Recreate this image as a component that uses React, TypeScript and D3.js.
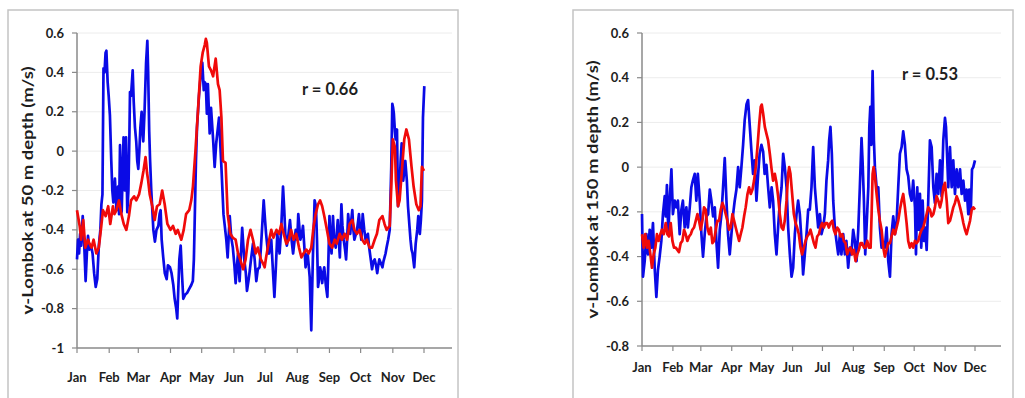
import React from "react";
import * as d3 from "d3";

// Month labels and the day-of-year each month starts on
const months = ["Jan", "Feb", "Mar", "Apr", "May", "Jun", "Jul", "Aug", "Sep", "Oct", "Nov", "Dec"];
const monthStartDays = [0, 31, 59, 90, 120, 151, 181, 212, 243, 273, 304, 334];

// Y ticks for each panel
const ticks50 = [-1, -0.8, -0.6, -0.4, -0.2, 0, 0.2, 0.4, 0.6];
const ticks150 = [-0.8, -0.6, -0.4, -0.2, 0, 0.2, 0.4, 0.6];

// v-Lombok at 50 m depth: [day of year, m/s]
const blue50: [number, number][] = [
  [0, -0.55], [1, -0.45], [2, -0.52], [3, -0.42], [4, -0.48], [5.5, -0.33], [7, -0.48], [8.3, -0.66], [9.5, -0.52],
  [10.6, -0.43], [12, -0.5], [13.5, -0.48], [15, -0.52], [16.5, -0.62], [18, -0.69], [19.5, -0.65], [21, -0.48],
  [22.5, -0.4], [23.5, -0.27], [24.5, -0.22], [25.5, 0.42], [26.5, 0.4], [27.5, 0.5], [28.3, 0.51], [29.5, 0.35],
  [30.5, 0.28], [31.7, 0.18], [33, -0.05], [34, -0.2], [35, -0.26], [36.5, -0.14], [38, -0.3], [39.5, -0.18],
  [40.5, -0.32], [41.4, 0.03], [42.3, -0.15], [43, -0.31], [44, -0.1], [44.8, 0.07], [46, -0.2], [47.2, 0.07],
  [48.4, -0.31], [49.5, -0.2], [50.5, 0.1], [51, 0.3], [52, 0.28], [53.6, 0.41], [54.6, 0.25], [55.8, 0.12],
  [57, 0.05], [58, -0.05], [59, -0.09], [60, 0.0], [61, 0.12], [62.2, 0.2], [63, 0.1], [63.8, 0.05], [65, 0.2],
  [66.5, 0.45], [67.7, 0.56], [68.5, 0.4], [69.5, 0.1], [70.3, -0.04], [71.5, -0.2], [72.5, -0.3], [73.5, -0.4],
  [75, -0.46], [76.5, -0.4], [78.3, -0.38], [79.5, -0.32], [80.5, -0.3], [81.5, -0.45], [83, -0.54], [84.5, -0.62],
  [86.3, -0.65], [87.5, -0.58], [89.5, -0.59], [91, -0.62], [92.7, -0.68], [94, -0.75], [95.5, -0.8], [96.5, -0.85],
  [97.5, -0.7], [98.5, -0.55], [99.8, -0.48], [101, -0.62], [102.3, -0.75], [104, -0.73], [106, -0.72], [108, -0.7],
  [110, -0.68], [111.5, -0.66], [112.5, -0.55], [113.5, -0.3], [114.5, -0.05], [115.5, 0.12], [117.4, 0.28],
  [119, 0.38], [120.6, 0.45], [122, 0.31], [123, 0.35], [124, 0.34], [125, 0.19], [126, 0.34], [127.7, 0.09],
  [129, 0.22], [131, 0.06], [132.5, -0.08], [134, 0.04], [136.7, 0.17], [139, -0.08], [141, -0.32], [143.7, -0.45],
  [145, -0.54], [147, -0.33], [148.5, -0.44], [150, -0.49], [151.5, -0.58], [152.7, -0.67], [154, -0.58],
  [155, -0.52], [156.5, -0.66], [158, -0.5], [159, -0.39], [160, -0.47], [161, -0.55], [162.5, -0.62],
  [163.6, -0.71], [165, -0.66], [166, -0.62], [167.5, -0.55], [169.4, -0.47], [171, -0.55], [172.6, -0.66],
  [174, -0.6], [175.8, -0.59], [177.5, -0.45], [179.7, -0.25], [181, -0.35], [182, -0.42], [183.5, -0.5],
  [184.8, -0.52], [186, -0.48], [187, -0.45], [188.5, -0.6], [190, -0.74], [191.5, -0.58], [192.8, -0.42],
  [194, -0.48], [195, -0.52], [196.5, -0.4], [198.3, -0.18], [199.5, -0.3], [200.5, -0.42], [202, -0.48],
  [203, -0.45], [205, -0.35], [206.5, -0.45], [208, -0.52], [209.5, -0.45], [210.5, -0.4], [212, -0.45],
  [213, -0.32], [215, -0.45], [216.5, -0.42], [217.5, -0.38], [219, -0.5], [220, -0.59], [221, -0.55],
  [222, -0.52], [223, -0.58], [224, -0.64], [225.5, -0.91], [227, -0.55], [228.7, -0.25], [230, -0.28],
  [231, -0.45], [232, -0.69], [233, -0.65], [234, -0.59], [235, -0.62], [236, -0.67], [237, -0.62], [238, -0.59],
  [239.5, -0.68], [241, -0.74], [242, -0.55], [243, -0.33], [244, -0.45], [245, -0.52], [246.4, -0.33],
  [247.5, -0.45], [249, -0.49], [250, -0.42], [251, -0.35], [252, -0.45], [253, -0.54], [254.5, -0.27],
  [255.5, -0.38], [256.7, -0.45], [258, -0.5], [259, -0.55], [260, -0.45], [261, -0.32], [262, -0.38],
  [263, -0.42], [264, -0.35], [265, -0.3], [266, -0.4], [267, -0.45], [268.5, -0.42], [269.5, -0.4],
  [270.5, -0.36], [271.4, -0.32], [272.5, -0.4], [273.7, -0.45], [275, -0.32], [276.5, -0.4], [277.8, -0.45],
  [279, -0.43], [280, -0.42], [281, -0.48], [282, -0.52], [283, -0.56], [284, -0.6], [285.3, -0.56],
  [286.5, -0.55], [287.8, -0.58], [289, -0.62], [290, -0.58], [291, -0.55], [292.5, -0.57], [294, -0.59],
  [295, -0.56], [296, -0.54], [297, -0.52], [298, -0.49], [299.5, -0.45], [301, -0.4], [302.5, -0.08],
  [303.5, 0.24], [304.3, 0.22], [305, 0.19], [306, 0.1], [306.7, 0.06], [308, 0.11], [309, -0.28], [310.5, -0.18],
  [311.5, -0.05], [312.5, 0.04], [314, -0.15], [315, -0.1], [316, -0.05], [317.5, -0.15], [318.6, -0.28],
  [320, -0.38], [321, -0.45], [322, -0.5], [323, -0.52], [324.6, -0.59], [326, -0.47], [327.5, -0.4],
  [328.5, -0.33], [329.3, -0.38], [330, -0.42], [331, -0.35], [332, -0.25], [333, 0.17], [334.3, 0.33],
];

const red50: [number, number][] = [
  [0, -0.3], [2.6, -0.38], [4, -0.45], [6, -0.35], [8, -0.49], [10.6, -0.45], [12, -0.47], [14, -0.49], [16, -0.45],
  [18.6, -0.52], [21, -0.49], [23.4, -0.38], [25, -0.3], [27.6, -0.33], [30, -0.28], [32, -0.37], [34.6, -0.28],
  [36, -0.32], [38, -0.3], [40.4, -0.25], [42.7, -0.32], [45, -0.37], [47.5, -0.4], [50, -0.33], [52, -0.25],
  [55, -0.23], [57, -0.25], [59.7, -0.22], [62, -0.16], [64, -0.1], [66, -0.03], [67.4, -0.11], [68.5, -0.15],
  [70, -0.22], [72.5, -0.28], [74.8, -0.35], [77, -0.28], [79.6, -0.27], [82, -0.2], [84.4, -0.27], [87, -0.37],
  [90, -0.4], [92.4, -0.38], [95, -0.42], [97, -0.4], [100.4, -0.45], [102.7, -0.4], [105, -0.32], [108, -0.3],
  [110, -0.25], [111.6, -0.18], [114, 0.0], [116.5, 0.21], [119, 0.43], [121, 0.5], [123, 0.54], [124, 0.57],
  [125, 0.55], [127, 0.43], [129, 0.41], [131, 0.38], [133.5, 0.47], [135.7, 0.34], [137.3, 0.31], [139, 0.17],
  [140.5, -0.05], [143, -0.06], [145, -0.32], [147.6, -0.42], [150, -0.44], [152.7, -0.45], [155, -0.52],
  [157, -0.55], [160, -0.6], [162.3, -0.55], [164.6, -0.45], [167, -0.4], [169.4, -0.45], [172, -0.52],
  [174, -0.49], [177, -0.55], [179, -0.57], [180.6, -0.59], [182, -0.54], [185, -0.45], [187, -0.4], [189, -0.44],
  [192, -0.4], [194.5, -0.42], [196.7, -0.37], [199, -0.42], [201.5, -0.47], [204, -0.45], [206, -0.4],
  [208.5, -0.45], [211, -0.42], [213.7, -0.49], [216, -0.54], [218, -0.52], [220.7, -0.5], [223, -0.52],
  [225.5, -0.49], [227.8, -0.38], [229.7, -0.32], [232, -0.27], [234, -0.25], [236, -0.28], [238, -0.33],
  [240.6, -0.4], [243, -0.47], [245.7, -0.49], [248, -0.45], [250, -0.47], [252.8, -0.42], [255, -0.45],
  [257.6, -0.42], [260, -0.45], [262.4, -0.37], [265, -0.35], [267, -0.4], [269.5, -0.42], [272, -0.4],
  [274.6, -0.45], [277, -0.47], [279, -0.45], [281.7, -0.49], [284, -0.49], [286.5, -0.45], [288.7, -0.42],
  [291, -0.35], [294, -0.33], [296, -0.37], [298, -0.4], [301, -0.38], [302.5, -0.18], [304, 0.06], [306, 0.02],
  [307, -0.15], [309, -0.28], [310.5, -0.25], [313, -0.08], [315, 0.06], [317, 0.11], [319.5, 0.06], [322, -0.08],
  [324, -0.18], [326.6, -0.27], [329, -0.3], [330.6, -0.28], [332, -0.08], [334, -0.1],
];

// v-Lombok at 150 m depth: [day of year, m/s]
const blue150: [number, number][] = [
  [0, -0.21], [1, -0.49], [2.7, -0.42], [4.4, -0.3], [6, -0.39], [7.7, -0.28], [9.4, -0.36], [11, -0.25],
  [12.7, -0.45], [14.4, -0.58], [16, -0.46], [17.7, -0.4], [19.4, -0.33], [21, -0.21], [22.8, -0.13], [23.8, -0.22],
  [25, -0.08], [26.4, -0.3], [27.8, -0.15], [29.5, -0.01], [31, -0.21], [32.8, -0.15], [34.5, -0.18], [36, -0.15],
  [37.8, -0.3], [39.5, -0.19], [41, -0.15], [42.8, -0.27], [44.5, -0.18], [46, -0.27], [47.9, -0.18], [49.5, -0.09],
  [51, -0.06], [52.9, -0.03], [54.5, -0.15], [56, -0.03], [57.9, -0.15], [59.6, -0.3], [61.2, -0.4], [62.9, -0.3],
  [64.6, -0.22], [66.3, -0.21], [68, -0.1], [69.6, -0.15], [71.3, -0.22], [73, -0.18], [74.6, -0.33], [76.3, -0.45],
  [78, -0.28], [79.7, -0.21], [81.3, -0.09], [83, 0.04], [84.7, -0.15], [86.3, -0.3], [88, -0.39], [89.7, -0.3],
  [91.4, -0.21], [93, -0.15], [94.7, -0.1], [96.4, 0.0], [98, -0.09], [99.7, 0.0], [101.4, 0.1], [103, 0.21],
  [104.8, 0.28], [106.4, 0.3], [108, 0.19], [109.8, 0.07], [111.4, -0.03], [113, 0.03], [114.8, -0.15],
  [116.5, -0.03], [118, 0.06], [119.8, 0.1], [121.5, 0.07], [123, -0.03], [124.8, 0.01], [126.5, -0.09],
  [128.2, -0.18], [130, -0.09], [131.5, -0.15], [133.2, -0.3], [134.9, -0.39], [136.5, -0.27], [138.2, -0.16],
  [140, -0.09], [141.6, 0.06], [143.2, 0.0], [145, -0.09], [146.6, -0.27], [148.3, -0.39], [150, -0.49],
  [151.6, -0.45], [153.3, -0.3], [155, -0.21], [156.6, -0.15], [158.3, -0.21], [160, -0.33], [161.6, -0.48],
  [163.3, -0.39], [165, -0.3], [166.7, -0.19], [168.3, -0.19], [170, -0.09], [171.7, 0.09], [173.4, -0.09],
  [175, -0.18], [176.7, -0.27], [178.4, -0.21], [180, -0.3], [181.7, -0.27], [183.4, -0.21], [185, -0.06],
  [186.7, 0.03], [187.7, 0.12], [189, 0.18], [190.4, 0.06], [191.8, -0.15], [193.4, -0.27], [195, -0.33],
  [196.8, -0.39], [198.5, -0.3], [200, -0.39], [201.8, -0.3], [203.5, -0.39], [205, -0.33], [206.8, -0.45],
  [208.5, -0.36], [210, -0.39], [211.8, -0.28], [213.5, -0.33], [215.2, -0.42], [216.9, -0.28], [218.5, -0.09],
  [220.2, 0.13], [221.2, 0.03], [222.6, -0.15], [223.9, -0.39], [225.2, -0.27], [227, -0.09], [228, 0.18],
  [229, 0.27], [230, 0.1], [231.3, 0.43], [232.6, 0.12], [233.6, 0.0], [235.3, -0.09], [237, -0.09], [238.6, -0.27],
  [240.3, -0.36], [242, -0.34], [243.6, -0.36], [245.3, -0.27], [247, -0.42], [248.7, -0.49], [250.3, -0.3],
  [252, -0.22], [253.7, -0.3], [255.4, -0.24], [257, -0.09], [258.7, 0.06], [260.4, 0.09], [262, 0.16],
  [263.7, 0.1], [265.4, -0.01], [267, -0.04], [268.7, -0.12], [270.4, -0.15], [272, -0.06], [273.8, -0.18],
  [274.8, -0.39], [276.1, -0.09], [277.4, -0.28], [278.8, -0.12], [280.1, -0.36], [281.5, -0.15], [282.8, -0.33],
  [284.1, -0.27], [285.5, -0.37], [287.1, -0.15], [288.8, 0.12], [290.5, 0.09], [292.2, -0.09], [293.8, -0.16],
  [295.5, -0.03], [297.2, -0.12], [298.9, 0.03], [300.5, -0.13], [302.2, 0.12], [303.9, 0.22], [304.9, 0.18],
  [306.2, 0.03], [307.2, -0.09], [308.9, 0.09], [310.6, -0.09], [312.2, 0.03], [313.9, -0.12], [315.6, -0.01],
  [317.3, -0.09], [319, -0.01], [320.6, -0.12], [322.3, -0.06], [324, -0.15], [325.6, -0.1], [327.3, -0.21],
  [328.3, -0.1], [329.7, -0.21], [331, -0.01], [332.3, 0.0], [334, 0.03],
];

const red150: [number, number][] = [
  [0, -0.3], [1.7, -0.36], [3.3, -0.3], [5, -0.36], [6.7, -0.33], [8.4, -0.39], [10, -0.45], [11.7, -0.39],
  [13.4, -0.36], [15, -0.3], [16.7, -0.33], [18.4, -0.3], [20, -0.28], [21.8, -0.3], [23.8, -0.25], [25.4, -0.3],
  [27.1, -0.31], [28.8, -0.25], [30.5, -0.33], [32.1, -0.36], [33.8, -0.36], [35.5, -0.37], [37.1, -0.38],
  [38.8, -0.34], [40.5, -0.33], [42.2, -0.28], [43.8, -0.3], [45.5, -0.33], [47.2, -0.31], [48.9, -0.3],
  [50.5, -0.28], [52.2, -0.27], [53.9, -0.24], [55.6, -0.21], [57.2, -0.24], [58.9, -0.28], [60.6, -0.24],
  [62.2, -0.18], [63.9, -0.19], [65.6, -0.27], [67.3, -0.3], [69, -0.27], [70.6, -0.34], [72.3, -0.33],
  [74, -0.28], [75.6, -0.24], [77.3, -0.24], [79, -0.19], [80.7, -0.16], [82.3, -0.18], [84, -0.21], [85.7, -0.24],
  [87.3, -0.28], [89, -0.27], [90.7, -0.21], [92.4, -0.24], [94, -0.27], [95.7, -0.3], [97.4, -0.33], [99, -0.3],
  [100.7, -0.27], [102.4, -0.22], [104, -0.18], [105.8, -0.12], [107.4, -0.09], [109.1, -0.12], [110.8, -0.1],
  [112.4, -0.06], [114.1, 0.0], [115.8, 0.09], [117.5, 0.19], [119.1, 0.27], [120.1, 0.28], [121.5, 0.24],
  [123.2, 0.18], [124.8, 0.15], [126.5, 0.12], [128.2, 0.06], [130, -0.01], [131.5, -0.06], [133.2, -0.03],
  [134.9, -0.07], [136.5, -0.13], [138.2, -0.21], [140, -0.27], [141.6, -0.28], [143.2, -0.24], [145, -0.15],
  [146.6, -0.03], [147.6, 0.0], [148.9, -0.03], [150.6, -0.12], [152.3, -0.21], [154, -0.25], [155.6, -0.27],
  [157.3, -0.3], [159, -0.36], [160.6, -0.39], [162.3, -0.36], [164, -0.33], [165.7, -0.31], [167.3, -0.3],
  [169, -0.28], [170.7, -0.31], [172.4, -0.34], [174, -0.36], [175.7, -0.31], [177.4, -0.3], [179, -0.27],
  [180.7, -0.25], [182.4, -0.27], [184, -0.25], [185.7, -0.25], [187.4, -0.27], [189, -0.25], [190.8, -0.24],
  [192.4, -0.28], [194, -0.3], [195.8, -0.27], [197.5, -0.28], [199.1, -0.31], [200.8, -0.3], [202.5, -0.33],
  [204.1, -0.34], [205.8, -0.39], [207.5, -0.37], [209.2, -0.36], [210.8, -0.39], [212.5, -0.37], [214.2, -0.42],
  [215.9, -0.39], [217.5, -0.37], [219.2, -0.34], [220.9, -0.34], [222.6, -0.36], [224.2, -0.36], [225.9, -0.33],
  [227.6, -0.36], [229.3, -0.36], [230.3, -0.21], [231.3, -0.03], [232.3, 0.0], [233.6, -0.04], [235.3, -0.12],
  [237, -0.19], [238.6, -0.24], [240.3, -0.28], [242, -0.36], [243.6, -0.4], [245.3, -0.37], [247, -0.34],
  [248.7, -0.34], [250.3, -0.31], [252, -0.28], [253.7, -0.3], [255.4, -0.27], [257, -0.24], [258.7, -0.19],
  [260.4, -0.15], [262, -0.12], [263.7, -0.18], [265.4, -0.25], [267, -0.33], [268.7, -0.36], [270.4, -0.34],
  [272, -0.36], [273.8, -0.33], [275.4, -0.34], [277.1, -0.33], [278.8, -0.3], [280.5, -0.28], [282.1, -0.27],
  [283.8, -0.24], [285.5, -0.21], [287.1, -0.18], [288.8, -0.19], [290.5, -0.22], [292.2, -0.21], [293.8, -0.18],
  [295.5, -0.13], [297.2, -0.15], [298.9, -0.18], [300.5, -0.15], [302.2, -0.09], [303.9, -0.07], [305.6, -0.15],
  [307.2, -0.25], [308.9, -0.24], [310.6, -0.21], [312.2, -0.18], [313.9, -0.16], [315.6, -0.13], [317.3, -0.15],
  [319, -0.18], [320.6, -0.21], [322.3, -0.25], [324, -0.28], [325.6, -0.3], [327.3, -0.27], [329, -0.24],
  [330.7, -0.19], [332.3, -0.18], [334, -0.19],
];

const FONT = "Lato, 'Open Sans', sans-serif";
const BLUE = "#0a0ae6";
const RED = "#f00a0a";

type PanelProps = {
  frame: [number, number, number, number];
  left: number;
  dataRight: number;
  axisRight: number;
  top: number;
  bottom: number;
  yDomain: [number, number];
  yTicks: number[];
  yTitle: string;
  titleX: number;
  titleLength: number;
  rText: string;
  rX: number;
  rY: number;
  monthY: number;
  blue: [number, number][];
  red: [number, number][];
};

function Panel(p: PanelProps) {
  const x = d3.scaleLinear().domain([0, 334]).range([p.left, p.dataRight]);
  const y = d3.scaleLinear().domain(p.yDomain).range([p.bottom, p.top]);
  const line = d3
    .line<[number, number]>()
    .x((d) => x(d[0]))
    .y((d) => y(d[1]))
    .curve(d3.curveLinear);
  const fmt = (v: number) => (Math.abs(v) < 1e-9 ? "0" : String(+v.toFixed(1)));
  const [fx, fy, fw, fh] = p.frame;
  const titleY = (p.top + p.bottom) / 2;
  return (
    <g>
      <rect x={fx} y={fy} width={fw} height={fh} fill="#fff" stroke="#c4c4c4" strokeWidth={1.5} />
      {p.yTicks.slice(1).map((t) => (
        <line key={"g" + t} x1={p.left} x2={p.axisRight} y1={y(t)} y2={y(t)} stroke="#ececec" strokeWidth={1} />
      ))}
      {/* axes */}
      <line x1={p.left} x2={p.left} y1={p.top} y2={p.bottom} stroke="#8a8a8a" strokeWidth={1.5} />
      <line x1={p.left} x2={p.axisRight} y1={p.bottom} y2={p.bottom} stroke="#8a8a8a" strokeWidth={1.5} />
      {p.yTicks.map((t) => (
        <g key={"y" + t}>
          <line x1={p.left - 5} x2={p.left} y1={y(t)} y2={y(t)} stroke="#8a8a8a" strokeWidth={1.2} />
          <text
            x={p.left - 13}
            y={y(t)}
            dy="0.35em"
            textAnchor="end"
            fontFamily={FONT}
            fontWeight={700}
            fontSize={13}
            fill="#1e1e1e"
          >
            {fmt(t)}
          </text>
        </g>
      ))}
      {monthStartDays.map((d, i) => (
        <g key={"m" + i}>
          <line x1={x(d)} x2={x(d)} y1={p.bottom} y2={p.bottom + 5} stroke="#8a8a8a" strokeWidth={1.2} />
          <text
            x={x(d)}
            y={p.monthY}
            textAnchor="middle"
            fontFamily={FONT}
            fontWeight={700}
            fontSize={13}
            fill="#1e1e1e"
          >
            {months[i]}
          </text>
        </g>
      ))}
      <text
        transform={`translate(${p.titleX},${titleY}) rotate(-90)`}
        textAnchor="middle"
        dy="0.35em"
        fontFamily={FONT}
        fontWeight={700}
        fontSize={15.5}
        textLength={p.titleLength}
        lengthAdjust="spacingAndGlyphs"
        fill="#1e1e1e"
      >
        {p.yTitle}
      </text>
      <path d={line(p.blue) || ""} fill="none" stroke={BLUE} strokeWidth={2.7} strokeLinejoin="round" />
      <path d={line(p.red) || ""} fill="none" stroke={RED} strokeWidth={2.7} strokeLinejoin="round" />
      <text x={p.rX} y={p.rY} textAnchor="middle" fontFamily={FONT} fontWeight={700} fontSize={16.5} fill="#1e1e1e">
        {p.rText}
      </text>
    </g>
  );
}

export default function App() {
  return (
    <svg
      width={1025}
      height={398}
      style={{ position: "absolute", left: 0, top: 0, display: "block", background: "#fff" }}
    >
      <Panel
        frame={[8, 10, 450, 400]}
        left={77}
        dataRight={424}
        axisRight={452}
        top={33}
        bottom={348}
        yDomain={[-1, 0.6]}
        yTicks={ticks50}
        yTitle="v-Lombok at 50 m depth (m/s)"
        titleX={28}
        titleLength={248}
        rText="r = 0.66"
        rX={330}
        rY={95}
        monthY={382}
        blue={blue50}
        red={red50}
      />
      <Panel
        frame={[573, 10, 440, 400]}
        left={642}
        dataRight={975}
        axisRight={1001}
        top={33}
        bottom={346}
        yDomain={[-0.8, 0.6]}
        yTicks={ticks150}
        yTitle="v-Lombok at 150 m depth (m/s)"
        titleX={593}
        titleLength={258}
        rText="r = 0.53"
        rX={930}
        rY={80}
        monthY={372}
        blue={blue150}
        red={red150}
      />
    </svg>
  );
}
